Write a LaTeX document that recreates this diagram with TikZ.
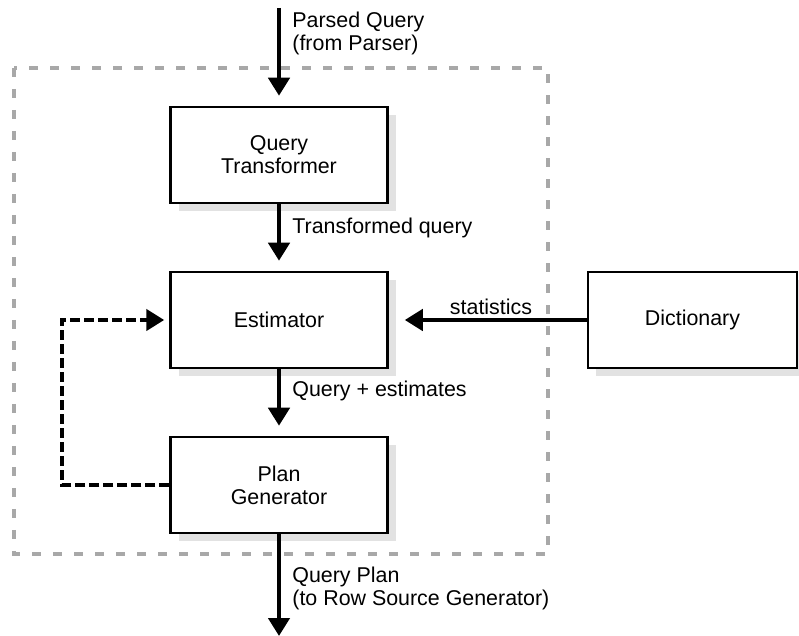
\documentclass[tikz,border=0pt]{standalone}
\usepackage{fontspec}
\setmainfont{Liberation Sans}
\usetikzlibrary{positioning}
\usetikzlibrary{arrows.meta,shadows}

\definecolor{framegray}{HTML}{A8A8A8}
\definecolor{shadowgray}{HTML}{E2E2E2}

\begin{document}
\begin{tikzpicture}[
    x=0.5pt, y=-0.5pt,
    font=\fontsize{10.7}{11.5}\selectfont,
    stage/.style={draw,line width=1.25pt,fill=white,minimum width=108.5pt,minimum height=48pt,align=center,
      drop shadow={shadow xshift=4pt,shadow yshift=-4pt,fill=shadowgray,opacity=1}},
    flow/.style={line width=2.2pt,-{Triangle[width=10.5pt,length=9pt]},shorten >=5pt},
    feedback/.style={line width=2.2pt,dash pattern=on 5pt off 2pt,-{Triangle[width=10.5pt,length=9pt]},shorten >=2.5pt},
    lbl/.style={inner sep=0pt,align=left,anchor=west}
    ]

    \useasboundingbox (0,0) rectangle (799,636);

    % optimizer frame
    \draw[framegray,line width=2.4pt,dash pattern=on 4.7pt off 5.8pt] (14,68) rectangle (548,554);

    \node[stage] (qt) at (279,155) {Query\\Transformer};
    \node[stage] (est) at (279,320) {Estimator};
    \node[stage] (pg) at (279,485) {Plan\\Generator};
    \node[stage,minimum width=104.5pt] (dict) at (692.5,320) {Dictionary};

    \coordinate (in) at (279,8);
    \coordinate (out) at (279,636);

    \draw[flow] (in) -- (qt);
    \draw[flow] (qt) -- (est);
    \draw[flow] (est) -- (pg);
    \draw[flow,shorten >=0pt] (pg) -- (out);
    \draw[flow,shorten >=8pt] (dict) -- (est);
    \draw[feedback] (pg.west) -- ++(-107,0) |- (est.west);

    \node[lbl] (lblin) at (292,33) {Parsed Query\\(from Parser)};
    \node[lbl] (lbltq) at (292,228) {Transformed query};
    \node[lbl] (lblqe) at (292,391) {Query + estimates};
    \node[lbl] (lblout) at (292,588) {Query Plan\\(to Row Source Generator)};
    \node[inner sep=0pt] (lblstat) at (491,307) {statistics};

\end{tikzpicture}
\end{document}
